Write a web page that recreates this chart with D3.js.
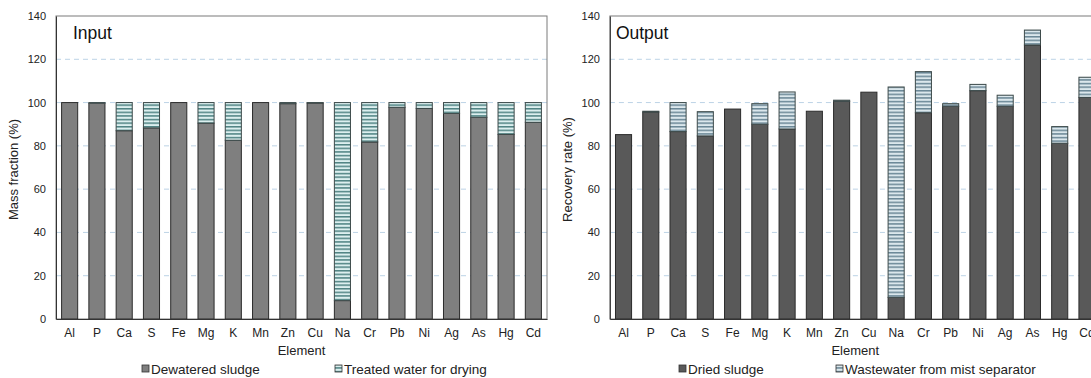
<!DOCTYPE html>
<html><head><meta charset="utf-8">
<script src="https://cdn.jsdelivr.net/npm/d3@7"></script>
<style>body{margin:0;background:#fff;} svg{display:block;font-family:Arial,"Liberation Sans",sans-serif;}</style>
</head><body>
<svg id="c" width="1091" height="378"></svg>
<script>
const elements = ["Al","P","Ca","S","Fe","Mg","K","Mn","Zn","Cu","Na","Cr","Pb","Ni","Ag","As","Hg","Cd"];
const yTicks = [0,20,40,60,80,100,120,140];
// Input panel
const dewateredSludge = [100,99.7,87,88.3,100,90.5,82.6,100,99.5,99.8,8.5,81.8,97.8,97.3,95,93.2,85.3,90.9];
const treatedWater    = [0,0.3,13,11.7,0,9.5,17.4,0,0.5,0.2,91.5,18.2,2.2,2.7,5,6.8,14.7,9.1];
// Output panel
const driedSludge     = [85.2,95.6,86.6,84.6,97,90,87.8,96,100.6,104.8,10,95.3,98.3,105.5,98.3,126.6,81.2,102.4];
const wastewaterMist  = [0,0.4,13.4,11.2,0,9.5,17.1,0,0.5,0,97.2,19,1.2,2.9,5.1,6.9,7.7,9.3];

(function(){
const svg = d3.select("#c");
const defs = svg.append("defs");
function hatch(id, light, dark){
  const p = defs.append("pattern").attr("id",id).attr("patternUnits","userSpaceOnUse")
    .attr("width",8).attr("height",3.6);
  p.append("rect").attr("width",8).attr("height",3.6).attr("fill",light);
  p.append("rect").attr("y",0).attr("width",8).attr("height",1.5).attr("fill",dark);
}
hatch("hIn","#dcefef","#4f8383");
hatch("hOut","#dbe7ec","#6a8796");

const panels = [
  {left:56, right:547, title:"Input", ylabel:"Mass fraction (%)", a:dewateredSludge, b:treatedWater,
   colA:"#7f7f7f", fillB:"url(#hIn)", legA:"Dewatered sludge", legB:"Treated water for drying",
   legAx:142, legBx:335},
  {left:609.9, right:1100.6, title:"Output", ylabel:"Recovery rate (%)", a:driedSludge, b:wastewaterMist,
   colA:"#595959", fillB:"url(#hOut)", legA:"Dried sludge", legB:"Wastewater from mist separator",
   legAx:679, legBx:836}
];
const plotTop = 16, plotBottom = 319;
const FF = "Arial,'Liberation Sans',sans-serif";

panels.forEach(P=>{
  const x = d3.scaleBand().domain(elements).range([P.left,P.right]).paddingInner(0.41).paddingOuter(0.205);
  const y = d3.scaleLinear().domain([0,140]).range([plotBottom,plotTop]);
  const g = svg.append("g");
  g.selectAll("line.grid").data(yTicks.filter(t=>t>0 && t<140)).join("line")
    .attr("x1",P.left).attr("x2",P.right).attr("y1",d=>y(d)).attr("y2",d=>y(d))
    .attr("stroke","#bcd3e6").attr("stroke-width",1).attr("stroke-dasharray","5,4");
  g.append("rect").attr("x",P.left).attr("y",plotTop).attr("width",P.right-P.left).attr("height",plotBottom-plotTop)
    .attr("fill","none").attr("stroke","#7a7a7a").attr("stroke-width",1);
  elements.forEach((e,i)=>{
    const a = P.a[i], b = P.b[i];
    g.append("rect").attr("x",x(e)).attr("width",x.bandwidth()).attr("y",y(a)).attr("height",y(0)-y(a))
      .attr("fill",P.colA).attr("stroke","#2b2b2b").attr("stroke-width",1);
    if (b>0){
      g.append("rect").attr("x",x(e)).attr("width",x.bandwidth()).attr("y",y(a+b)).attr("height",y(a)-y(a+b))
        .attr("fill",P.fillB).attr("stroke","#3d4a4a").attr("stroke-width",1);
    }
  });
  const ya = d3.axisLeft(y).tickValues(yTicks).tickSize(0).tickPadding(10);
  const yg = g.append("g").attr("transform",`translate(${P.left},0)`).call(ya);
  yg.select(".domain").attr("stroke","#333");
  yg.selectAll("text").attr("font-size",11).attr("fill","#222").attr("font-family",FF);
  const xa = d3.axisBottom(x).tickSize(0).tickPadding(9);
  const xg = g.append("g").attr("transform",`translate(0,${plotBottom})`).call(xa);
  xg.select(".domain").attr("stroke","#333");
  xg.selectAll("text").attr("font-size",12).attr("fill","#222").attr("font-family",FF);
  g.append("text").attr("x",P.left+(P.title==="Input"?17:6)).attr("y",39).attr("font-size",17.5).attr("fill","#111").text(P.title);
  g.append("text").attr("transform",`translate(${P.left-38},${(plotTop+plotBottom)/2 + 2}) rotate(-90)`)
    .attr("text-anchor","middle").attr("font-size",13).attr("fill","#222").text(P.ylabel);
  g.append("text").attr("x",(P.left+P.right)/2).attr("y",355)
    .attr("text-anchor","middle").attr("font-size",13).attr("fill","#222").text("Element");
  g.append("rect").attr("x",P.legAx).attr("y",365).attr("width",7).attr("height",7)
    .attr("fill",P.colA).attr("stroke","#333").attr("stroke-width",0.8);
  g.append("text").attr("x",P.legAx+9).attr("y",374).attr("font-size",13.5).attr("fill","#222").text(P.legA);
  g.append("rect").attr("x",P.legBx).attr("y",365).attr("width",7).attr("height",7)
    .attr("fill",P.fillB).attr("stroke","#333").attr("stroke-width",0.8);
  g.append("text").attr("x",P.legBx+9).attr("y",374).attr("font-size",13.5).attr("fill","#222").text(P.legB);
});
})();
</script>
</body></html>
